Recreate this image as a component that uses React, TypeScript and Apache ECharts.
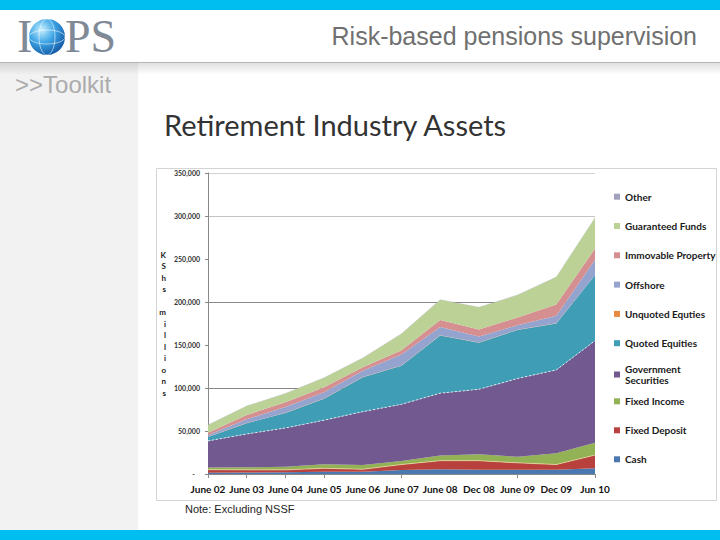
import React, { useEffect, useRef } from "react";
import * as echarts from "echarts";

const categories = ["June 02", "June 03", "June 04", "June 05", "June 06", "June 07", "June 08", "Dec 08", "June 09", "Dec 09", "Jun 10"];
const cash = [1500, 1800, 2000, 2500, 2700, 4600, 5500, 4800, 4800, 5000, 6600];
const fixedDeposit = [3500, 3000, 2800, 4100, 2800, 6400, 10000, 10700, 8200, 6000, 15400];
const fixedIncome = [2600, 3000, 3500, 4800, 5000, 4000, 6000, 7500, 7000, 13000, 14400];
const govSecurities = [30900, 38700, 45200, 51200, 62000, 66000, 72500, 75500, 91000, 97000, 118600];
const quotedEquities = [4500, 12500, 17500, 24900, 40000, 45000, 67000, 54200, 56500, 54000, 76000];
const unquotedEquities = [200, 200, 200, 200, 200, 200, 200, 200, 200, 200, 200];
const offshore = [2200, 4400, 6800, 7300, 7300, 12800, 9800, 7100, 5300, 8800, 17800];
const immovableProperty = [2600, 5000, 5500, 6000, 4000, 5000, 8000, 8000, 9000, 13000, 13000];
const guaranteedFunds = [9000, 10400, 10000, 11000, 11000, 19000, 23500, 26000, 26000, 32000, 36000];
const other = [300, 300, 300, 300, 300, 400, 300, 300, 300, 300, 300];

const seriesNames = ["Cash", "Fixed Deposit", "Fixed Income", "Government Securities", "Quoted Equities", "Unquoted Equties", "Offshore", "Immovable Property", "Guaranteed Funds", "Other"];
const seriesData = [cash, fixedDeposit, fixedIncome, govSecurities, quotedEquities, unquotedEquities, offshore, immovableProperty, guaranteedFunds, other];
const seriesColors = ["#4a78b0", "#b8413e", "#93b155", "#72598f", "#3f9db5", "#e88a3f", "#94a4cf", "#d68f90", "#bcd196", "#a2a2bf"];
const yTicks = [0, 50000, 100000, 150000, 200000, 250000, 300000, 350000];
const xTickShown = [0, 1, 2, 3, 5, 8, 10];

const FONT = "Lato";

export default function App() {
  const ref = useRef<HTMLDivElement>(null);
  useEffect(() => {
    document.body.style.margin = "0";
    const chart = echarts.init(ref.current!, undefined, { renderer: "svg" });
    const series: any[] = seriesNames.map((name, i) => ({
      name,
      type: "line",
      stack: "total",
      data: seriesData[i],
      showSymbol: false,
      symbol: "none",
      itemStyle: { color: seriesColors[i] },
      areaStyle: { color: seriesColors[i], opacity: 1 },
      lineStyle:
        name === "Government Securities"
          ? { color: "#ffffff", width: 0.8, type: [2, 2] }
          : name === "Fixed Deposit"
          ? { color: "#f0e0a8", width: 0.7 }
          : { width: 0, opacity: 0 },
      z: 3,
    }));
    series.push({
      type: "line",
      yAxisIndex: 1,
      data: [],
      silent: true,
    });
    const legendCommon = {
      orient: "vertical",
      left: 614,
      padding: 0,
      itemWidth: 6,
      itemHeight: 6,
      icon: "rect",
      selectedMode: false,
      textStyle: { fontFamily: FONT, fontSize: 10, fontWeight: "bold", color: "#1a1a1a", lineHeight: 12 },
    };
    chart.setOption({
      animation: false,
      backgroundColor: "#ffffff",
      textStyle: { fontFamily: FONT },
      grid: { left: 208, top: 173, width: 387, height: 301, containLabel: false },
      legend: [
        { ...legendCommon, top: 190.7, itemGap: 17.3, data: ["Other", "Guaranteed Funds", "Immovable Property", "Offshore", "Unquoted Equties", "Quoted Equities"] },
        {
          ...legendCommon,
          top: 363,
          data: ["Government Securities"],
          formatter: () => "Government\nSecurities",
          textStyle: { ...legendCommon.textStyle, lineHeight: 11.5 },
        },
        { ...legendCommon, top: 395.3, itemGap: 17, data: ["Fixed Income", "Fixed Deposit", "Cash"] },
      ],
      xAxis: {
        type: "category",
        data: categories,
        boundaryGap: false,
        axisLine: { lineStyle: { color: "#888888", width: 1 } },
        axisTick: { show: true, length: 4, lineStyle: { color: "#888888" }, interval: (i: number) => xTickShown.includes(i) },
        axisLabel: { interval: 0, margin: 10, fontFamily: FONT, fontSize: 10, fontWeight: "bold", color: "#111111" },
        splitLine: { show: false },
      },
      yAxis: [
        {
          type: "value",
          min: 0,
          max: 350000,
          interval: 50000,
          name: "K\nS\nh\ns\n\nm\ni\nl\nl\ni\no\nn\ns",
          nameLocation: "middle",
          nameRotate: 0,
          nameGap: 42,
          nameTextStyle: { fontFamily: FONT, fontSize: 8, fontWeight: "bold", color: "#222222", lineHeight: 11.5 },
          axisLine: { show: true, lineStyle: { color: "#888888", width: 1 } },
          axisTick: { show: true, length: 3, lineStyle: { color: "#888888" } },
          axisLabel: {
            margin: 8,
            fontFamily: FONT,
            fontSize: 7,
            fontWeight: "bold",
            color: "#333333",
            formatter: (v: number) => (v === 0 ? "-   " : yTicks.includes(v) ? v.toLocaleString("en-US") : ""),
          },
          splitLine: { show: false },
        },
        {
          type: "value",
          min: 0,
          max: 350000,
          interval: 100000,
          position: "left",
          axisLine: { show: false },
          axisTick: { show: false },
          axisLabel: { show: false },
          splitLine: { show: true, lineStyle: { color: ["#888888", "#888888", "#888888", "#c4c4c4", "#d2d2d2"], width: 1 } },
        },
      ],
      series,
      graphic: [
        { type: "rect", shape: { x: 0, y: 0, width: 720, height: 10 }, style: { fill: "#00bff0" }, z: 0 },
        { type: "rect", shape: { x: 0, y: 530, width: 720, height: 10 }, style: { fill: "#00bff0" }, z: 0 },
        { type: "rect", shape: { x: 0, y: 63, width: 138, height: 467 }, style: { fill: "#f2f2f2" }, z: -1 },
        {
          type: "rect",
          shape: { x: 0, y: 63, width: 720, height: 12 },
          style: {
            fill: new echarts.graphic.LinearGradient(0, 0, 0, 1, [
              { offset: 0, color: "rgba(0,0,0,0.12)" },
              { offset: 1, color: "rgba(0,0,0,0)" },
            ]),
          },
          z: 0,
        },
        { type: "line", shape: { x1: 0, y1: 62.5, x2: 720, y2: 62.5 }, style: { stroke: "#b5b5b5", lineWidth: 1 }, z: 1 },
        { type: "text", x: 17, y: 36, style: { text: "I", fontFamily: "Liberation Serif", fontSize: 46, fill: "#808a96", verticalAlign: "middle" }, z: 2 },
        {
          type: "circle",
          shape: { cx: 47, cy: 37, r: 18 },
          style: {
            fill: new echarts.graphic.RadialGradient(0.35, 0.3, 0.8, [
              { offset: 0, color: "#c8f0ff" },
              { offset: 0.45, color: "#3fa6e6" },
              { offset: 1, color: "#0d4f9c" },
            ]),
          },
          z: 2,
        },
        { type: "ellipse", shape: { cx: 47, cy: 37, rx: 8, ry: 18 }, style: { fill: "none", stroke: "rgba(255,255,255,0.55)", lineWidth: 1 }, z: 3 },
        { type: "ellipse", shape: { cx: 47, cy: 37, rx: 18, ry: 7 }, style: { fill: "none", stroke: "rgba(255,255,255,0.55)", lineWidth: 1 }, z: 3 },
        { type: "text", x: 65, y: 36, style: { text: "PS", fontFamily: "Liberation Serif", fontSize: 46, fill: "#808a96", verticalAlign: "middle" }, z: 2 },
        { type: "text", x: 697, y: 36, style: { text: "Risk-based pensions supervision", fontFamily: "Liberation Sans", fontSize: 25, fill: "#707070", align: "right", verticalAlign: "middle" }, z: 2 },
        { type: "text", x: 15, y: 84, style: { text: ">>Toolkit", fontFamily: "Liberation Sans", fontSize: 24, fill: "#ababab", verticalAlign: "middle" }, z: 2 },
        { type: "text", x: 164, y: 124, style: { text: "Retirement Industry Assets", fontFamily: FONT, fontSize: 29, fill: "#333333", verticalAlign: "middle" }, z: 2 },
        { type: "rect", shape: { x: 156.5, y: 168.5, width: 560, height: 332 }, style: { fill: "none", stroke: "#d4d4d4", lineWidth: 1 }, z: 1 },
        { type: "text", x: 185, y: 509, style: { text: "Note: Excluding NSSF", fontFamily: "Liberation Sans", fontSize: 11, fill: "#222222", verticalAlign: "middle" }, z: 2 },
      ],
    });
    return () => chart.dispose();
  }, []);
  return <div ref={ref} style={{ position: "fixed", left: 0, top: 0, width: 720, height: 540 }} />;
}
